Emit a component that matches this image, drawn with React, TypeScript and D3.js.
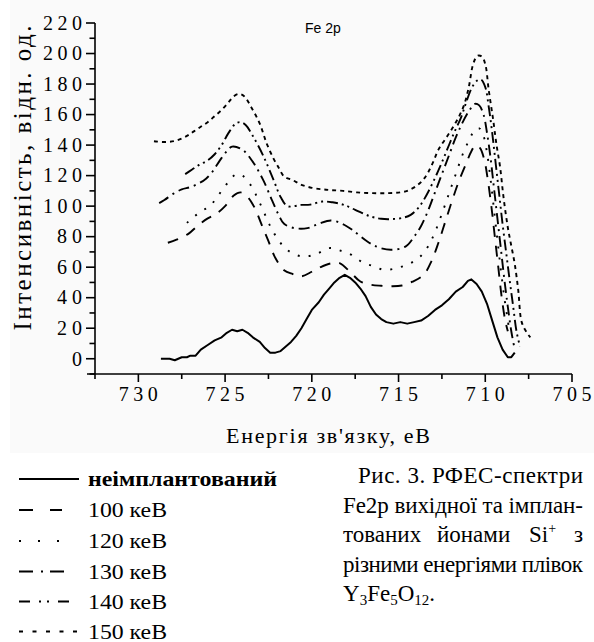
import React from 'react';
import * as d3 from 'd3';

// Fe 2p XPS spectra, binding energy (eV) vs intensity (arb. units)
const xMajorTicks = [730, 725, 720, 715, 710, 705];
const xMinorTicks = [732.5, 727.5, 722.5, 717.5, 712.5, 707.5];
const yMajorTicks = [0, 20, 40, 60, 80, 100, 120, 140, 160, 180, 200, 220];
const yMinorTicks = [-10, 10, 30, 50, 70, 90, 110, 130, 150, 170, 190, 210];

const seriesLabels = ['неімплантований', '100 кеВ', '120 кеВ', '130 кеВ', '140 кеВ', '150 кеВ'];

// unimplanted film
const eUnimpl = [728.7, 728.2, 727.9, 727.5, 727.2, 727.0, 726.7, 726.4, 726.0, 725.6, 725.2, 724.9, 724.6, 724.3, 724.0, 723.7, 723.4, 723.0, 722.7, 722.4, 722.1, 721.8, 721.5, 721.2, 720.9, 720.6, 720.3, 720.0, 719.6, 719.3, 719.0, 718.7, 718.4, 718.1, 717.8, 717.5, 717.2, 716.9, 716.6, 716.3, 716.0, 715.7, 715.3, 714.9, 714.5, 714.1, 713.7, 713.3, 712.9, 712.5, 712.1, 711.7, 711.3, 711.0, 710.8, 710.5, 710.2, 709.9, 709.6, 709.3, 709.0, 708.7, 708.5, 708.3];
const iUnimpl = [0, 0, -1, 1, 1, 2, 2, 6, 9, 12, 14, 17, 19, 18, 19, 17, 14, 11, 7, 4, 4, 5, 8, 11, 15, 20, 26, 32, 37, 42, 46, 50, 53, 55, 53, 50, 46, 41, 34, 29, 26, 24, 23, 24, 23, 24, 25, 28, 32, 35, 39, 44, 47, 51, 52, 49, 44, 36, 25, 14, 6, 1, 1, 4];

// 100 keV
const e100 = [728.3, 727.8, 727.1, 726.6, 726.0, 725.5, 725.0, 724.5, 724.1, 723.7, 723.3, 722.9, 722.5, 722.1, 721.6, 721.1, 720.6, 720.0, 719.5, 718.9, 718.4, 717.8, 717.2, 716.6, 716.0, 715.4, 714.8, 714.2, 713.55, 713.1, 712.7, 712.3, 711.9, 711.5, 711.1, 710.8, 710.55, 710.3, 710.05, 709.85, 709.65, 709.45, 709.25, 709.05, 708.85, 708.7];
const i100 = [76, 78, 82, 87, 92, 95, 100, 107, 109, 106, 99, 88, 77, 66, 58, 55.5, 54, 57, 60, 62.5, 62.7, 57, 50.6, 48.5, 47.8, 47.5, 48, 50.5, 55, 64, 76, 90, 104, 117, 128, 136, 140, 138, 130, 117, 100, 80, 60, 40, 25, 18];

// 120 keV
const e120 = [727.2, 726.8, 726.3, 725.8, 725.4, 725.0, 724.6, 724.3, 724.0, 723.6, 723.2, 722.8, 722.4, 722.0, 721.5, 720.9, 720.35, 719.7, 719.0, 718.4, 717.7, 717.0, 716.4, 715.85, 715.1, 714.3, 713.7, 713.3, 712.9, 712.5, 712.1, 711.7, 711.3, 710.9, 710.6, 710.35, 710.1, 709.9, 709.7, 709.5, 709.3, 709.1, 708.9, 708.7, 708.6];
const i120 = [89, 93, 97, 101, 107, 113, 119, 121, 120, 115, 107, 97, 87, 79, 72, 68, 67, 68.8, 72.5, 71, 68, 62.7, 60.5, 58.3, 59.4, 62.7, 67.5, 73.5, 83, 95, 108, 121, 134, 144, 150, 151, 146, 135, 118, 98, 78, 58, 40, 25, 17];

// 130 keV
const e130 = [728.8, 728.5, 728.0, 727.5, 727.0, 726.5, 726.1, 725.7, 725.3, 724.9, 724.6, 724.0, 723.4, 722.8, 722.3, 721.9, 721.6, 721.0, 720.25, 719.6, 718.9, 718.24, 717.67, 716.8, 716.14, 715.4, 714.6, 714.1, 713.7, 713.3, 712.9, 712.5, 712.1, 711.7, 711.3, 710.9, 710.6, 710.35, 710.1, 709.9, 709.7, 709.5, 709.3, 709.1, 708.9, 708.7, 708.5, 708.3];
const i130 = [102, 104, 108, 111, 112.5, 115, 118, 123, 130, 136, 139, 137, 129, 117, 104, 94, 88.4, 85.6, 85.6, 88.4, 90.6, 88.4, 84.5, 76.8, 72.9, 71.4, 73.5, 80, 87, 97, 109, 121, 133, 145, 155, 163, 167, 166, 160, 148, 132, 112, 92, 72, 52, 34, 18, 6];

// 140 keV
const e140 = [727.3, 726.9, 726.5, 726.0, 725.6, 725.2, 724.8, 724.4, 724.1, 723.8, 723.4, 722.8, 722.2, 721.8, 721.4, 720.6, 720.1, 719.4, 718.8, 718.2, 717.5, 716.6, 716.0, 715.4, 714.7, 714.3, 713.8, 713.4, 713.0, 712.6, 712.2, 711.8, 711.4, 711.1, 710.8, 710.5, 710.25, 710.0, 709.8, 709.6, 709.4, 709.2, 709.0, 708.8, 708.6, 708.4, 708.2, 708.0];
const i140 = [121, 124, 127, 130, 134, 140, 148, 154, 155, 153, 146, 133, 117, 106, 100, 100.8, 101, 103, 102.5, 101, 97.6, 93.2, 91.7, 91.5, 92.5, 94.3, 99.7, 107, 116, 126, 137, 148, 158, 168, 177, 182, 183, 178, 165, 148, 128, 108, 88, 70, 52, 35, 18, 8];

// 150 keV
const e150 = [729.1, 728.4, 727.8, 727.2, 726.8, 726.4, 726.0, 725.6, 725.2, 724.8, 724.5, 724.2, 723.9, 723.5, 723.0, 722.6, 722.2, 721.9, 721.6, 721.1, 720.6, 720.0, 719.4, 718.9, 718.2, 717.4, 716.5, 715.6, 714.9, 714.5, 714.0, 713.6, 713.3, 713.0, 712.7, 712.3, 711.9, 711.5, 711.2, 710.95, 710.7, 710.45, 710.2, 710.0, 709.8, 709.55, 709.35, 709.15, 708.95, 708.7, 708.5, 708.3, 708.1, 707.9, 707.6, 707.4];
const i150 = [142.5, 142, 143, 146, 149, 152, 155, 159, 163, 168, 172, 173.5, 172, 165, 154, 141, 131, 125, 119.5, 117, 114, 112, 111, 110.5, 110, 109, 108.5, 108.5, 109, 110, 113, 117, 122, 129, 137, 144, 151, 159, 167, 178, 193, 198.5, 198, 193, 176, 157, 140, 126, 106, 86, 74, 62, 45, 24, 17, 14];

const seriesE = [eUnimpl, e100, e120, e130, e140, e150];
const seriesI = [iUnimpl, i100, i120, i130, i140, i150];

const curveDash = ['none', '11,9', '2,9', '11,5,2,5', '11,4,2,4,2,4', '4,4'];
const legendDash = ['none', '14,17', '2,17', '14,8,2,7', '11,9,2,6,2,9', '4,9.5'];
const legendLen = [60, 43, 41, 45, 58, 63];

const caption = ['Рис. 3. РФЕС-спектри', 'Fe2p вихідної та імплан-', 'тованих', 'йонами', 'Si', '+', 'з', 'різними енергіями плівок'];

export default function App() {
  const x = d3.scaleLinear().domain([732.5, 705]).range([95, 572]);
  const y = d3.scaleLinear().domain([-10, 220]).range([374, 23]);
  const serif = "'Liberation Serif', 'Times New Roman', serif";

  const paths = seriesE.map((es, k) => {
    const pts = es.map((e, j) => [e, seriesI[k][j]] as [number, number]);
    const gen = d3
      .line<[number, number]>()
      .x((d) => x(d[0]))
      .y((d) => y(d[1]))
      .curve(k === 0 ? d3.curveLinear : d3.curveCatmullRom.alpha(0.5));
    return gen(pts) || '';
  });

  const legendY = [479, 510, 541, 571.5, 601.5, 631.5];
  const tickLen = (t: number) => (String(t).length === 1 ? 0 : String(t).length === 2 ? 25 : 39);

  return (
    <svg width={594} height={642} style={{ display: 'block', position: 'absolute', left: 0, top: 0 }}>
      <rect x={0} y={0} width={594} height={642} fill="#ffffff" />
      <rect x={10} y={0} width={584} height={453} fill="#fafafa" />

      {/* axes */}
      <g stroke="#000" strokeWidth={1.6} fill="none">
        <line x1={95} x2={95} y1={y(220)} y2={y(-10)} />
        <line x1={87} x2={x(705)} y1={y(-10)} y2={y(-10)} />
        {yMajorTicks.map((t) => (
          <line key={'ym' + t} x1={86} x2={95} y1={y(t)} y2={y(t)} />
        ))}
        {yMinorTicks.map((t) => (
          <line key={'yn' + t} x1={89.5} x2={95} y1={y(t)} y2={y(t)} />
        ))}
        {xMajorTicks.map((t) => (
          <line key={'xm' + t} x1={x(t)} x2={x(t)} y1={374} y2={382} />
        ))}
        {xMinorTicks.map((t) => (
          <line key={'xn' + t} x1={x(t)} x2={x(t)} y1={374} y2={379} />
        ))}
      </g>

      <g fontFamily={serif} fontSize={20} fill="#000">
        {yMajorTicks.map((t) =>
          tickLen(t) > 0 ? (
            <text key={'yl' + t} x={82} y={y(t) + 6.8} textAnchor="end" textLength={tickLen(t)} lengthAdjust="spacing">
              {t}
            </text>
          ) : (
            <text key={'yl' + t} x={82} y={y(t) + 6.8} textAnchor="end">
              {t}
            </text>
          )
        )}
        {xMajorTicks.map((t) => (
          <text key={'xl' + t} x={x(t)} y={401} textAnchor="middle" textLength={39} lengthAdjust="spacing">
            {t}
          </text>
        ))}
      </g>

      <text x={226} y={443} fontFamily={serif} fontSize={22} textLength={204} lengthAdjust="spacing">
        Енергія зв'язку, еВ
      </text>
      <text
        transform="translate(31,178) rotate(-90)"
        textAnchor="middle"
        fontFamily={serif}
        fontSize={25}
        textLength={305}
        lengthAdjust="spacing"
      >
        Інтенсивність, відн. од.
      </text>

      <text x={305} y={33} fontFamily="'Liberation Sans', Arial, sans-serif" fontSize={14}>
        Fe 2p
      </text>

      {/* spectra */}
      <g fill="none" stroke="#000" strokeLinejoin="round">
        {paths.map((p, k) => (
          <path key={'s' + k} d={p} strokeWidth={k === 0 ? 2 : 1.9} strokeDasharray={curveDash[k]} />
        ))}
      </g>

      {/* legend */}
      <g>
        {seriesLabels.map((lab, k) => (
          <g key={'lg' + k}>
            <line
              x1={19}
              x2={19 + legendLen[k]}
              y1={legendY[k]}
              y2={legendY[k]}
              stroke="#000"
              strokeWidth={2}
              strokeDasharray={legendDash[k]}
            />
            <text
              x={88}
              y={legendY[k] + 7}
              fontFamily={serif}
              fontSize={21}
              fontWeight={k === 0 ? 'bold' : 'normal'}
              textLength={k === 0 ? 189 : 79}
              lengthAdjust="spacingAndGlyphs"
            >
              {lab}
            </text>
          </g>
        ))}
      </g>

      {/* caption */}
      <g fontFamily={serif} fontSize={23} fill="#000">
        <text x={358} y={483} textLength={225} lengthAdjust="spacing">{caption[0]}</text>
        <text x={343} y={512.5} textLength={240} lengthAdjust="spacing">{caption[1]}</text>
        <text x={343} y={542}>{caption[2]}</text>
        <text x={437} y={542}>{caption[3]}</text>
        <text x={529} y={542}>
          {caption[4]}
          <tspan fontSize={14} dy={-9}>{caption[5]}</tspan>
        </text>
        <text x={583} y={542} textAnchor="end">{caption[6]}</text>
        <text x={343} y={571.5} textLength={240} lengthAdjust="spacing">{caption[7]}</text>
        <text x={343} y={601}>
          Y<tspan fontSize={15} dy={4}>3</tspan>
          <tspan dy={-4}>Fe</tspan>
          <tspan fontSize={15} dy={4}>5</tspan>
          <tspan dy={-4}>O</tspan>
          <tspan fontSize={15} dy={4}>12</tspan>
          <tspan dy={-4}>.</tspan>
        </text>
      </g>
    </svg>
  );
}
